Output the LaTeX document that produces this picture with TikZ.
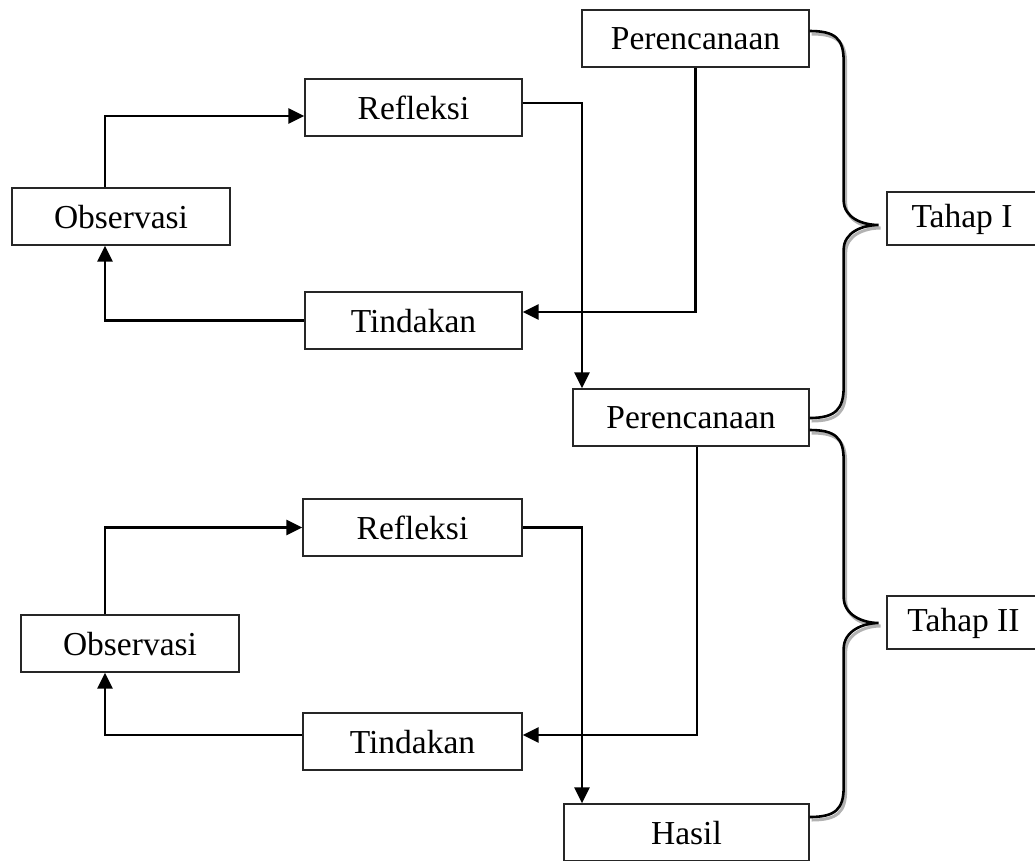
\documentclass[tikz,border=0pt]{standalone}
\usepackage{fontspec}
\setmainfont{Liberation Serif}
\usetikzlibrary{arrows.meta}

\tikzset{
  box/.style={draw=black!85,line width=1.3pt,fill=white,minimum height=57pt,
    inner sep=0pt,text depth=0pt,font=\fontsize{33.5}{40}\selectfont},
  tahapbox/.style={box,minimum height=53pt,text height=17pt},
  flow/.style={line width=2.5pt,-{Triangle[length=16pt,width=15pt]}},
  brace/.style={line width=2.6pt,
    preaction={draw=black!30,line width=3pt,transform canvas={xshift=2pt,yshift=-3pt}}}
}

\begin{document}
\begin{tikzpicture}[x=1pt,y=-1pt]
  \useasboundingbox (0,0) rectangle (1035,860);
  \node[box,minimum width=227pt] (per1) at (695.5,38.5) {Perencanaan};
  \node[box,minimum width=217pt] (ref1) at (413.5,107.5) {Refleksi};
  \node[box,minimum width=218pt] (obs1) at (121,216.5) {Observasi};
  \node[box,minimum width=217pt] (tin1) at (413.5,320.5) {Tindakan};
  \node[box,minimum width=236pt] (per2) at (691,417.5) {Perencanaan};
  \node[box,minimum width=219pt] (ref2) at (412.5,527.5) {Refleksi};
  \node[box,minimum width=218pt] (obs2) at (130,643.5) {Observasi};
  \node[box,minimum width=219pt] (tin2) at (412.5,741.5) {Tindakan};
  \node[box,minimum width=245pt] (hasil) at (686.5,832.5) {Hasil};
  \node[tahapbox,minimum width=150pt] (tahap1) at (962,218.5) {Tahap I};
  \node[tahapbox,minimum width=153pt] (tahap2) at (963.5,622.5) {Tahap II};
%%% siklus I
  \draw[flow] ([xshift=-16pt]obs1.north) |- ([yshift=-8.5pt]ref1.west);
  \draw[flow] ([yshift=4.5pt]ref1.east) -| ([xshift=-109pt]per2.north);
  \draw[flow] (per1.south) |- ([yshift=8.5pt]tin1.east);
  \draw[flow] (tin1.west) -| ([xshift=-16pt]obs1.south);
%%% siklus II
  \draw[flow] ([xshift=-25pt]obs2.north) |- (ref2.west);
  \draw[flow] (ref2.east) -| ([xshift=-104.5pt]hasil.north);
  \draw[flow] ([xshift=6pt]per2.south) |- ([yshift=6.5pt]tin2.east);
  \draw[flow] ([yshift=6.5pt]tin2.west) -| ([xshift=-25pt]obs2.south);
%%% kurung kurawal
  \draw[brace] ([yshift=7.5pt]per1.east)
    .. controls +(26,0) and +(0,-22) .. ++(34,30) -- ++(0,139)
    .. controls +(0,18) and +(-16,0) .. ++(35,25)
    .. controls +(-16,0) and +(0,-18) .. ++(-35,25) -- ++(0,137)
    .. controls +(0,22) and +(26,0) .. ++(-34,31);
  \draw[brace] ([yshift=-12.5pt]per2.east)
    .. controls +(26,0) and +(0,-22) .. ++(34,30) -- ++(0,137)
    .. controls +(0,18) and +(-16,0) .. ++(35,26)
    .. controls +(-16,0) and +(0,-18) .. ++(-35,26) -- ++(0,138)
    .. controls +(0,22) and +(26,0) .. ++(-34,30);
\end{tikzpicture}
\end{document}
